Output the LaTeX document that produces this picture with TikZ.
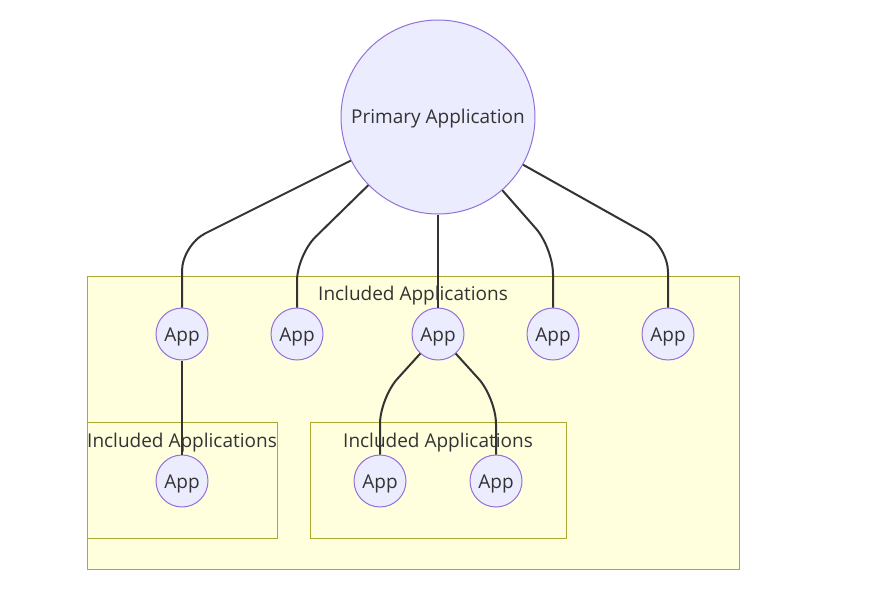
\documentclass[tikz,border=0pt]{standalone}
\usepackage{fontspec}
\setmainfont{Open Sans}
\definecolor{nodefill}{HTML}{ECECFF}
\definecolor{nodeline}{HTML}{9370DB}
\definecolor{boxfill}{HTML}{FFFFDE}
\definecolor{boxline}{HTML}{AAAA33}
\definecolor{edgecol}{HTML}{333333}
\begin{document}
\begin{tikzpicture}[x=1pt,y=-1pt,
  labelfont/.style={text=edgecol,font=\fontsize{19}{22}\selectfont,text height=18.5pt,text depth=4.5pt},
  appnode/.style={circle,draw=nodeline,fill=nodefill,line width=1pt,minimum size=52pt,inner sep=0pt,labelfont},
  bignode/.style={appnode,minimum size=194pt},
  groupbox/.style={draw=boxline,fill=boxfill,line width=1pt},
  grouplabel/.style={labelfont,inner sep=0pt},
  link/.style={draw=edgecol,line width=2pt,rounded corners=26pt}]
\useasboundingbox[fill=white] (0,0) rectangle (887,594);
% group boxes
\draw[groupbox] (87,276) rectangle (739,569);
\node[grouplabel] (g0) at (413,293) {Included Applications};
\draw[groupbox] (87,422) rectangle (277,538);
\node[grouplabel] (g1) at (182,440) {Included Applications};
\draw[groupbox] (310,422) rectangle (566,538);
\node[grouplabel] (g2) at (438,440) {Included Applications};
% nodes
\node[bignode] (P) at (438,117) {Primary Application};
\node[appnode] (a1) at (182,334) {App};
\node[appnode] (a2) at (297,334) {App};
\node[appnode] (a3) at (438,334) {App};
\node[appnode] (a4) at (553,334) {App};
\node[appnode] (a5) at (668,334) {App};
\node[appnode] (b1) at (182,481) {App};
\node[appnode] (b2) at (380,481) {App};
\node[appnode] (b3) at (496,481) {App};
% edges
\draw[link] (P) -- (182,245) -- (a1);
\draw[link] (P) -- (297,255) -- (a2);
\draw[link] (P) -- (a3);
\draw[link] (P) -- (553,248) -- (a4);
\draw[link] (P) -- (668,246) -- (a5);
\draw[link] (a1) -- (b1);
\draw[link] (a3) -- (380,398) -- (b2);
\draw[link] (a3) -- (496,398) -- (b3);
\end{tikzpicture}
\end{document}
